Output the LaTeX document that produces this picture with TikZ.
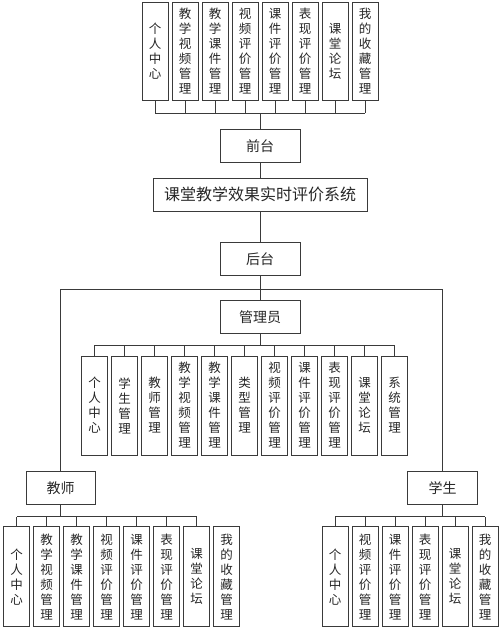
\documentclass[tikz,border=0pt]{standalone}
\usepackage{fontspec}
\newfontfamily\cjk{Noto Sans CJK SC}
\definecolor{linec}{HTML}{3A3A3A}
\definecolor{textc}{HTML}{262626}
\begin{document}
\begin{tikzpicture}[x=1pt,y=-1pt,
  box/.style={draw=linec, line width=0.8pt, inner sep=0pt, text=textc,
    font=\cjk\fontsize{14}{16}\selectfont},
  hbox/.style={box, minimum width=80pt, minimum height=33pt},
  vbox/.style={box, minimum width=26pt, align=center,
    font=\cjk\fontsize{12.5}{15}\selectfont},
  conn/.style={draw=linec, line width=0.8pt}]
\useasboundingbox (0,0) rectangle (500,629);

% ---------- front end ----------
\foreach \t [count=\i] in {{个\\人\\中\\心},{教\\学\\视\\频\\管\\理},{教\\学\\课\\件\\管\\理},{视\\频\\评\\价\\管\\理},{课\\件\\评\\价\\管\\理},{表\\现\\评\\价\\管\\理},{课\\堂\\论\\坛},{我\\的\\收\\藏\\管\\理}}
  \node[vbox, minimum height=98pt] (t\i) at (125+30*\i, 51) {\t};

\node[hbox] (front) at (260,146) {前台};
\node[box, minimum width=214pt, minimum height=33pt, font=\cjk\fontsize{16}{18}\selectfont] (sys) at (260,194.5) {课堂教学效果实时评价系统};
\node[hbox] (back) at (260,259) {后台};

\coordinate (tb) at (260,113);
\foreach \i in {1,...,8} \draw[conn] (t\i.south) -- (t\i.south |- tb);
\draw[conn] (t1.south |- tb) -- (t8.south |- tb);
\draw[conn] (front.north) -- (front.north |- tb);
\draw[conn] (front) -- (sys);
\draw[conn] (sys) -- (back);

% ---------- back end ----------
\node[hbox] (admin) at (260,316.7) {管理员};
\node[box, minimum width=69pt, minimum height=33pt] (teacher) at (60.5,488) {教师};
\node[box, minimum width=70pt, minimum height=33pt] (student) at (442.7,488.3) {学生};

\coordinate (bb) at (260,289);
\draw[conn] (back) -- (admin);
\draw[conn] (teacher.north) -- (teacher.north |- bb) -- (student.north |- bb) -- (student.north);

% admin children
\foreach \t [count=\i] in {{个\\人\\中\\心},{学\\生\\管\\理},{教\\师\\管\\理},{教\\学\\视\\频\\管\\理},{教\\学\\课\\件\\管\\理},{类\\型\\管\\理},{视\\频\\评\\价\\管\\理},{课\\件\\评\\价\\管\\理},{表\\现\\评\\价\\管\\理},{课\\堂\\论\\坛},{系\\统\\管\\理}}
  \node[vbox, minimum height=99pt] (a\i) at (64.7+30*\i, 405.5) {\t};
\coordinate (ab) at (260,345);
\foreach \i in {1,...,11} \draw[conn] (a\i.north) -- (a\i.north |- ab);
\draw[conn] (a1.north |- ab) -- (a11.north |- ab);
\draw[conn] (admin.south) -- (admin.south |- ab);

% teacher children
\foreach \t [count=\i] in {{个\\人\\中\\心},{教\\学\\视\\频\\管\\理},{教\\学\\课\\件\\管\\理},{视\\频\\评\\价\\管\\理},{课\\件\\评\\价\\管\\理},{表\\现\\评\\价\\管\\理},{课\\堂\\论\\坛},{我\\的\\收\\藏\\管\\理}}
  \node[vbox, minimum height=100pt] (c\i) at (-13.3+30*\i, 576.7) {\t};
\coordinate (cb) at (60,516.7);
\foreach \i in {1,...,7} \draw[conn] (c\i.north) -- (c\i.north |- cb);
\draw[conn] (c1.north |- cb) -- (c7.north |- cb);
\draw[conn] (teacher.south) -- (teacher.south |- cb);

% student children
\foreach \t [count=\i] in {{个\\人\\中\\心},{视\\频\\评\\价\\管\\理},{课\\件\\评\\价\\管\\理},{表\\现\\评\\价\\管\\理},{课\\堂\\论\\坛},{我\\的\\收\\藏\\管\\理}}
  \node[vbox, minimum height=100pt] (s\i) at (305+30*\i, 576.7) {\t};
\coordinate (sb) at (442.7,516.7);
\foreach \i in {1,...,6} \draw[conn] (s\i.north) -- (s\i.north |- sb);
\draw[conn] (s1.north |- sb) -- (s6.north |- sb);
\draw[conn] (student.south) -- (student.south |- sb);
\end{tikzpicture}
\end{document}
